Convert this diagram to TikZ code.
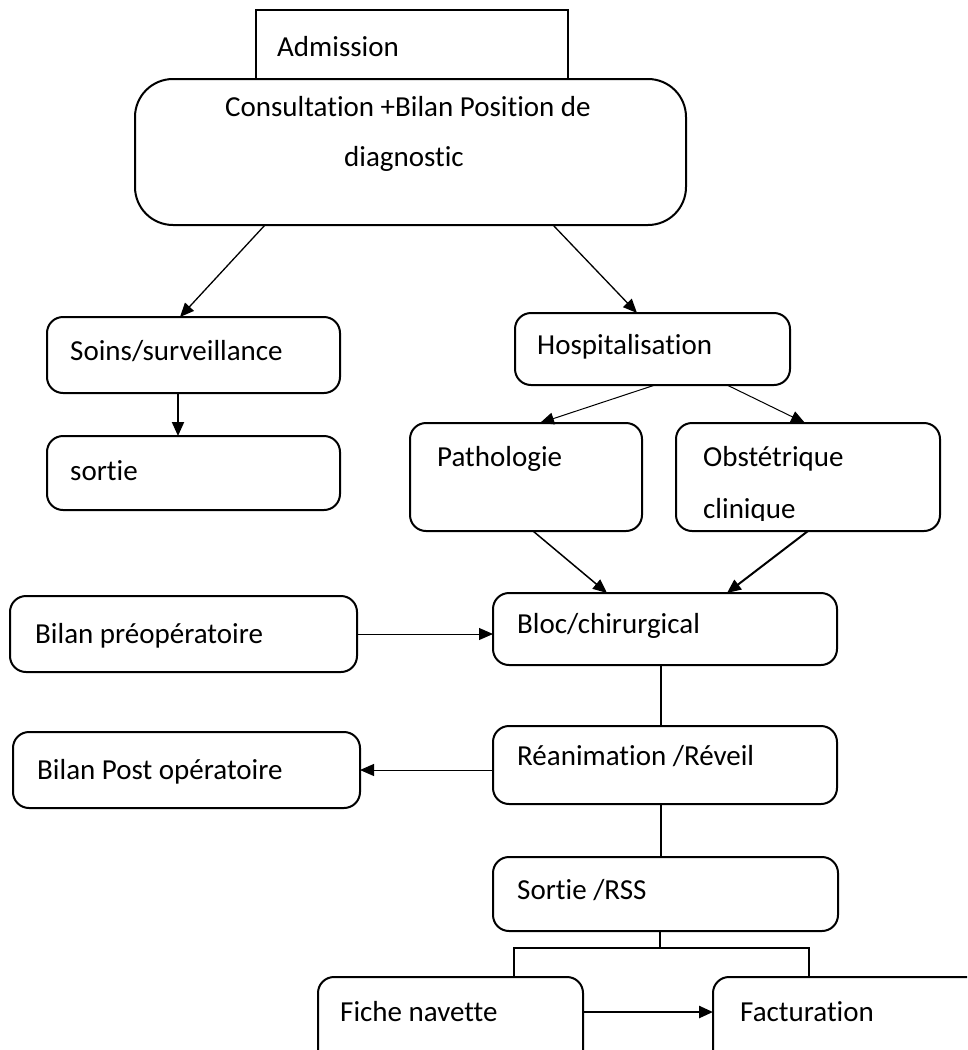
\documentclass[tikz,border=0pt]{standalone}
\usepackage{fontspec}
\setmainfont{Carlito}[Ligatures={NoCommon,NoContextual}]
\usetikzlibrary{arrows.meta,calc}
\begin{document}
\begin{tikzpicture}[x=1pt,y=-1pt,
  box/.style={draw=black,line width=2pt,rounded corners=16pt,fill=white,inner sep=0pt,outer sep=0pt},
  plainbox/.style={draw=black,line width=2pt,fill=white,inner sep=0pt,outer sep=0pt},
  lbl/.style={anchor=base west,inner sep=0pt,font=\fontsize{29}{34}\selectfont},
  clbl/.style={anchor=base,inner sep=0pt,font=\fontsize{29}{34}\selectfont},
  thin arrow/.style={line width=1pt,-{Triangle[length=14pt,width=12pt]}},
  thick arrow/.style={line width=2pt,-{Triangle[length=14pt,width=12pt]}},
  link/.style={line width=2pt}]
\useasboundingbox (0,0) rectangle (967,1050);
\clip (0,0) rectangle (967,1050);

% boxes
\node[plainbox,minimum width=312pt,minimum height=70pt] (adm) at (412,45) {};
\node[box,rounded corners=38pt,minimum width=551pt,minimum height=146pt] (consult) at (410.5,152) {};
\node[box,minimum width=293pt,minimum height=76pt] (soins) at (193.5,355) {};
\node[box,minimum width=293pt,minimum height=74pt] (sortie) at (193.5,473) {};
\node[box,minimum width=275pt,minimum height=72pt] (hosp) at (652.5,349) {};
\node[box,minimum width=232pt,minimum height=108pt] (patho) at (526,477) {};
\node[box,minimum width=264pt,minimum height=108pt] (obst) at (808,477) {};
\node[box,minimum width=344pt,minimum height=72pt] (bloc) at (665,629) {};
\node[box,minimum width=347pt,minimum height=76pt] (preop) at (183.5,634) {};
\node[box,minimum width=344pt,minimum height=78pt] (reanim) at (665,765) {};
\node[box,minimum width=347pt,minimum height=76pt] (postop) at (186.5,770) {};
\node[box,minimum width=345pt,minimum height=74pt] (rss) at (665.5,894) {};
\node[box,minimum width=265pt,minimum height=90pt] (fiche) at (450.5,1022) {};
\node[box,minimum width=280pt,minimum height=90pt] (fact) at (853,1022) {};

% texts
\node[lbl] (tadm) at (277,56) {Admission};
\node[clbl] (tcons1) at (408,116) {Consultation +Bilan Position de};
\node[clbl] (tcons2) at (404,166) {diagnostic};
\node[lbl] (tsoins) at (70,360) {Soins/surveillance};
\node[lbl] (tsortie) at (70,480) {sortie};
\node[lbl] (thosp) at (537,354) {Hospitalisation};
\node[lbl] (tpatho) at (437,466) {Pathologie};
\node[lbl] (tobst) at (703,466) {Obstétrique};
\begin{scope}
  \clip (obst.north west) rectangle ($(obst.east)+(0,43)$);
  \node[lbl] (tclin) at (703,518) {clinique};
\end{scope}
\node[lbl] (tbloc) at (517,633) {Bloc/chirurgical};
\node[lbl] (tpreop) at (35,643) {Bilan préopératoire};
\node[lbl] (treanim) at (517,765) {Réanimation /Réveil};
\node[lbl] (tpostop) at (37,779) {Bilan Post opératoire};
\node[lbl] (trss) at (517,899) {Sortie /RSS};
\node[lbl] (tfiche) at (340,1021) {Fiche navette};
\node[lbl] (tfact) at (740,1021) {Facturation};

% connectors
\draw[line width=1.3pt,-{Triangle[length=14pt,width=12pt]}]
  ($(consult.south west)+(130,0)$) -- ($(soins.north west)+(133,0)$);
\draw[line width=1.3pt,-{Triangle[length=14pt,width=12pt]}]
  ($(consult.south west)+(418,0)$) -- ($(hosp.north west)+(122,0)$);
\draw[thick arrow] ($(soins.south west)+(131,0)$) -- ($(sortie.north west)+(131,0)$);
\draw[thin arrow] ($(hosp.south west)+(140,0)$) -- ($(patho.north west)+(130,0)$);
\draw[thin arrow] ($(hosp.south west)+(212,0)$) -- ($(obst.north west)+(129,0)$);
\draw[line width=1.5pt,-{Triangle[length=14pt,width=12pt]}]
  ($(patho.south west)+(123,0)$) -- ($(bloc.north west)+(114,0)$);
\draw[thick arrow] ($(obst.south west)+(132,0)$) -- ($(bloc.north west)+(234,0)$);
\draw[thin arrow] (preop.east) -- (preop.east -| bloc.west);
\draw[link] ($(bloc.south west)+(168,0)$) -- ($(reanim.north west)+(168,0)$);
\draw[thin arrow] (reanim.west |- postop.east) -- (postop.east);
\draw[link] ($(reanim.south west)+(168,0)$) -- ($(rss.north west)+(168,0)$);
\coordinate (split) at ($(rss.south west)+(167,17)$);
\draw[link] ($(rss.south west)+(167,0)$) -- (split);
\draw[link] ($(fiche.north west)+(196,0)$) |- (split) -| ($(fact.north west)+(96,0)$);
\draw[line width=2.5pt,-{Triangle[length=14pt,width=12pt]}]
  ($(fiche.north east)+(0,35)$) -- ($(fact.north west)+(0,35)$);
\end{tikzpicture}
\end{document}
